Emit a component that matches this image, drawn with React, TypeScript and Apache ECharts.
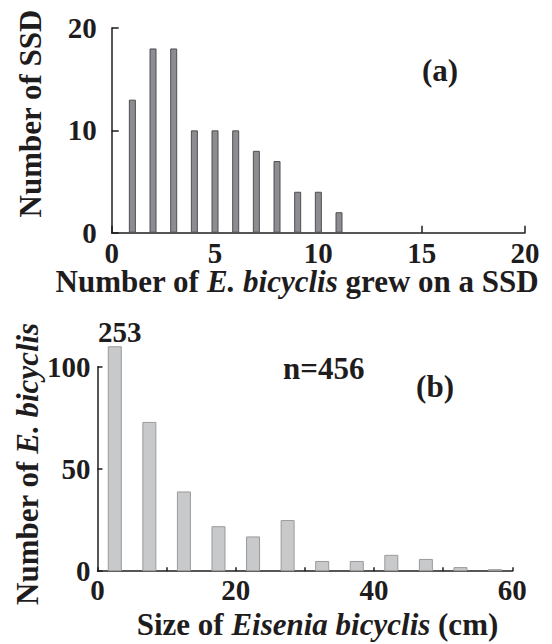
import React, { useEffect, useRef } from "react";
import * as echarts from "echarts";

// Panel (a): number of SSD by number of E. bicyclis growing on one SSD
const plantsPerSSD = [1, 2, 3, 4, 5, 6, 7, 8, 9, 10, 11];
const ssdCounts = [13, 18, 18, 10, 10, 10, 8, 7, 4, 4, 2];

// Panel (b): size distribution of Eisenia bicyclis (5 cm bins, centers)
const sizeBinCenters = [2.5, 7.5, 12.5, 17.5, 22.5, 27.5, 32.5, 37.5, 42.5, 47.5, 52.5, 57.5];
const sizeCounts = [253, 73, 39, 22, 17, 25, 5, 5, 8, 6, 2, 1];
const sizeAxisBreak = 110; // bar drawn up to this height, true count written above

const topXTicks = [0, 5, 10, 15, 20];
const topYTicks = [0, 10, 20];
const botXLabels = [0, 20, 40, 60];
const botYTicks = [0, 50, 100];

const FONT = '"Liberation Serif", "Times New Roman", serif';
const INK = "#1f1c1d";

export default function App() {
  const ref = useRef<HTMLDivElement>(null);
  useEffect(() => {
    if (!ref.current) return;
    const chart = echarts.init(ref.current, undefined, { renderer: "svg" });
    const labelStyle = { fontFamily: FONT, fontWeight: "bold" as const, fontSize: 29, lineHeight: 22, color: INK };
    const axisLine = { show: true, lineStyle: { color: INK, width: 1.5 } };
    const titleRich = {
      r: { fontFamily: FONT, fontWeight: "bold", fontSize: 31, lineHeight: 24, fill: INK },
      i: { fontFamily: FONT, fontWeight: "bold", fontStyle: "italic", fontSize: 31, lineHeight: 24, fill: INK },
    };
    const plain = (text: string) => ({
      text, align: "center", verticalAlign: "middle", fontFamily: FONT, fontWeight: "bold",
      fontSize: 31, lineHeight: 24, fill: INK,
    });
    chart.setOption({
      animation: false,
      backgroundColor: "#ffffff",
      grid: [
        { left: 111.7, right: 27, top: 28, bottom: 411.3 },
        { left: 97.5, right: 39.7, top: 366.7, bottom: 72.8 },
      ],
      xAxis: [
        {
          type: "value", gridIndex: 0, min: topXTicks[0], max: topXTicks[topXTicks.length - 1], interval: 5,
          axisLine, splitLine: { show: false },
          axisTick: { show: true, inside: true, length: 7, lineStyle: { color: INK, width: 1.5 } },
          axisLabel: { ...labelStyle, margin: 9 },
        },
        {
          type: "value", gridIndex: 1, min: 0, max: 60, interval: 10,
          axisLine, splitLine: { show: false },
          axisTick: { show: true, inside: true, length: 4, lineStyle: { color: INK, width: 1.5 } },
          axisLabel: {
            ...labelStyle, margin: 8,
            formatter: (v: number) => (botXLabels.includes(v) ? String(v) : ""),
          },
        },
      ],
      yAxis: [
        {
          type: "value", gridIndex: 0, min: topYTicks[0], max: topYTicks[topYTicks.length - 1], interval: 10,
          axisLine, splitLine: { show: false },
          axisTick: { show: true, inside: true, length: 7, lineStyle: { color: INK, width: 1.5 } },
          axisLabel: { ...labelStyle, margin: 15 },
        },
        {
          type: "value", gridIndex: 1, min: botYTicks[0], max: botYTicks[botYTicks.length - 1], interval: 50,
          axisLine, splitLine: { show: false },
          axisTick: { show: true, inside: true, length: 5, lineStyle: { color: INK, width: 1.5 } },
          axisLabel: { ...labelStyle, margin: 7 },
        },
      ],
      series: [
        {
          type: "bar", xAxisIndex: 0, yAxisIndex: 0, barWidth: 7,
          data: plantsPerSSD.map((x, i) => [x, ssdCounts[i]]),
          itemStyle: { color: "#8d8d91", borderColor: "#4e4e50", borderWidth: 1 },
        },
        {
          type: "bar", xAxisIndex: 1, yAxisIndex: 1, barWidth: 14, clip: false,
          data: sizeBinCenters.map((x, i) => {
            const v = sizeCounts[i];
            const item: any = { value: [x, Math.min(v, sizeAxisBreak)] };
            if (v > sizeAxisBreak) {
              item.label = {
                show: true, position: "top", distance: 3, offset: [5, 0],
                formatter: String(v), ...labelStyle,
              };
            }
            return item;
          }),
          itemStyle: { color: "#c8c9cb", borderColor: "#9a9a9c", borderWidth: 1 },
        },
      ],
      graphic: [
        { type: "text", x: 30, y: 113.5, rotation: Math.PI / 2, style: plain("Number of SSD") },
        {
          type: "text", x: 297, y: 281.5,
          style: {
            text: "{r|Number of }{i|E. bicyclis}{r| grew on a SSD}", rich: titleRich,
            align: "center", verticalAlign: "middle",
          },
        },
        { type: "text", x: 440, y: 70, style: plain("(a)") },
        {
          type: "text", x: 27, y: 464, rotation: Math.PI / 2,
          style: {
            text: "{r|Number of }{i|E. bicyclis}", rich: titleRich,
            align: "center", verticalAlign: "middle",
          },
        },
        {
          type: "text", x: 317.5, y: 624.5,
          style: {
            text: "{r|Size of }{i|Eisenia bicyclis}{r| (cm)}", rich: titleRich,
            align: "center", verticalAlign: "middle",
          },
        },
        { type: "text", x: 323.7, y: 368, style: plain("n=456") },
        { type: "text", x: 435, y: 386, style: plain("(b)") },
      ],
    });
    return () => chart.dispose();
  }, []);
  return (
    <div style={{ position: "fixed", left: 0, top: 0, width: 552, height: 644, background: "#fff" }}>
      <div ref={ref} style={{ width: 552, height: 644 }} />
    </div>
  );
}
